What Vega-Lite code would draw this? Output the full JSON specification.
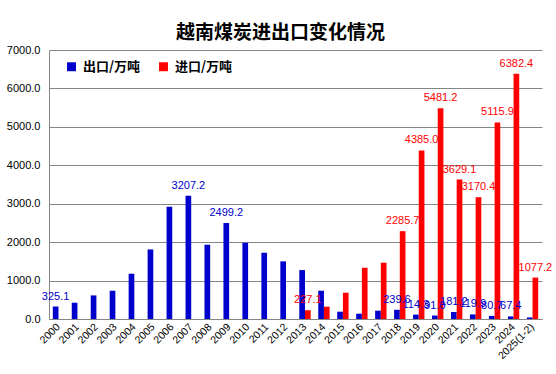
{
 "$schema": "https://vega.github.io/schema/vega-lite/v6.json",
 "width": 493,
 "height": 269,
 "autosize": {"type": "none"},
 "padding": {"left": 49, "top": 50, "right": 14, "bottom": 55},
 "background": "white",
 "config": {"view": {"stroke": null}},
 "title": {"text": "越南煤炭进出口变化情况", "font": "Noto Sans CJK SC", "fontSize": 19, "fontWeight": "bold", "color": "#000000", "anchor": "middle", "frame": "group", "offset": 8, "dx": -15, "dy": 7},
 "data": {"values": [
  {"year": "2000", "s": "出口/万吨", "v": 325.1},
  {"year": "2001", "s": "出口/万吨", "v": 424},
  {"year": "2002", "s": "出口/万吨", "v": 614},
  {"year": "2003", "s": "出口/万吨", "v": 736},
  {"year": "2004", "s": "出口/万吨", "v": 1178},
  {"year": "2005", "s": "出口/万吨", "v": 1810},
  {"year": "2006", "s": "出口/万吨", "v": 2921},
  {"year": "2007", "s": "出口/万吨", "v": 3207.2},
  {"year": "2008", "s": "出口/万吨", "v": 1932},
  {"year": "2009", "s": "出口/万吨", "v": 2499.2},
  {"year": "2010", "s": "出口/万吨", "v": 1984},
  {"year": "2011", "s": "出口/万吨", "v": 1724},
  {"year": "2012", "s": "出口/万吨", "v": 1500},
  {"year": "2013", "s": "出口/万吨", "v": 1273},
  {"year": "2013", "s": "进口/万吨", "v": 227.1},
  {"year": "2014", "s": "出口/万吨", "v": 736},
  {"year": "2014", "s": "进口/万吨", "v": 320},
  {"year": "2015", "s": "出口/万吨", "v": 190},
  {"year": "2015", "s": "进口/万吨", "v": 684},
  {"year": "2016", "s": "出口/万吨", "v": 138},
  {"year": "2016", "s": "进口/万吨", "v": 1334},
  {"year": "2017", "s": "出口/万吨", "v": 216},
  {"year": "2017", "s": "进口/万吨", "v": 1464},
  {"year": "2018", "s": "出口/万吨", "v": 239.6},
  {"year": "2018", "s": "进口/万吨", "v": 2285.7},
  {"year": "2019", "s": "出口/万吨", "v": 114.3},
  {"year": "2019", "s": "进口/万吨", "v": 4385.0},
  {"year": "2020", "s": "出口/万吨", "v": 91.0},
  {"year": "2020", "s": "进口/万吨", "v": 5481.2},
  {"year": "2021", "s": "出口/万吨", "v": 181.2},
  {"year": "2021", "s": "进口/万吨", "v": 3629.1},
  {"year": "2022", "s": "出口/万吨", "v": 119.9},
  {"year": "2022", "s": "进口/万吨", "v": 3170.4},
  {"year": "2023", "s": "出口/万吨", "v": 80.7},
  {"year": "2023", "s": "进口/万吨", "v": 5115.9},
  {"year": "2024", "s": "出口/万吨", "v": 67.4},
  {"year": "2024", "s": "进口/万吨", "v": 6382.4},
  {"year": "2025(1-2)", "s": "出口/万吨", "v": 40},
  {"year": "2025(1-2)", "s": "进口/万吨", "v": 1077.2}
 ]},
 "encoding": {
  "x": {"field": "year", "type": "nominal", "sort": null,
   "scale": {"paddingInner": 0.4, "paddingOuter": 0.2},
   "axis": {"title": null, "labelAngle": -45, "labelAlign": "right", "labelBaseline": "middle", "labelFont": "Liberation Sans", "labelFontSize": 10.5, "labelColor": "#000000", "ticks": false, "labelPadding": 6, "domainColor": "#868686", "grid": false}},
  "xOffset": {"field": "s", "type": "nominal", "sort": ["出口/万吨", "进口/万吨"],
   "scale": {"domain": ["出口/万吨", "进口/万吨"], "paddingInner": 0, "paddingOuter": 0}},
  "y": {"field": "v", "type": "quantitative",
   "scale": {"domain": [0, 7000], "nice": false},
   "axis": {"title": null, "format": ".1f", "values": [0, 1000, 2000, 3000, 4000, 5000, 6000, 7000], "labelFont": "Liberation Sans", "labelFontSize": 11, "labelColor": "#000000", "ticks": false, "labelPadding": 9, "grid": true, "gridColor": "#868686", "domainColor": "#868686"}}
 },
 "layer": [
  {"mark": {"type": "bar"},
   "encoding": {"color": {"field": "s", "type": "nominal",
    "scale": {"domain": ["出口/万吨", "进口/万吨"], "range": ["#0000CC", "#FF0000"]},
    "legend": {"orient": "none", "legendX": 16, "legendY": 10, "direction": "horizontal", "title": null, "symbolType": "square", "symbolSize": 80, "symbolStrokeWidth": 0, "labelFont": "Noto Sans CJK SC", "labelFontSize": 13, "labelFontWeight": "bold", "labelColor": "#000000", "columnPadding": 16, "labelOffset": 5}}}},
  {"transform": [{"filter": "(datum.s=='出口/万吨' && indexof(['2000','2007','2009','2018','2019','2020','2021','2022','2023','2024'], datum.year) >= 0) || (datum.s=='进口/万吨' && indexof(['2013','2018','2019','2020','2021','2022','2023','2024','2025(1-2)'], datum.year) >= 0)"}],
   "mark": {"type": "text", "baseline": "bottom", "dy": -5, "font": "Liberation Sans"},
   "encoding": {
    "text": {"field": "v", "type": "quantitative", "format": ".1f"},
    "color": {"condition": {"test": "datum.s=='出口/万吨'", "value": "#0000CC"}, "value": "#FF0000"},
    "fontSize": {"condition": {"test": "datum.s=='进口/万吨' && (datum.year=='2024' || datum.year=='2025(1-2)')", "value": 12}, "value": 9.5},
    "fontWeight": {"condition": {"test": "datum.s=='进口/万吨' && (datum.year=='2024' || datum.year=='2025(1-2)')", "value": "bold"}, "value": "normal"}
   }}
 ]
}
